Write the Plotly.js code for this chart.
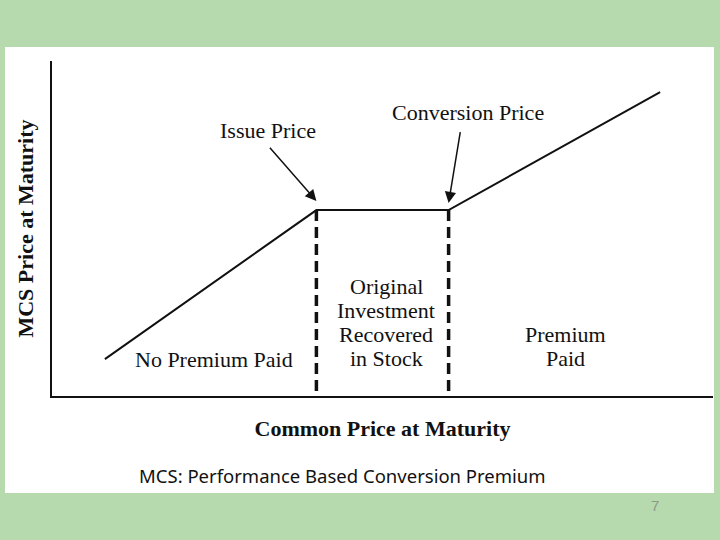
<!DOCTYPE html>
<html>
<head>
<meta charset="utf-8">
<script src="https://cdn.plot.ly/plotly-3.0.1.min.js"></script>
<style>
  html, body { margin: 0; padding: 0; background: #b7d9ae; }
  #chart { width: 720px; height: 540px; }
</style>
</head>
<body>
<div id="chart"></div>
<script>
// ---- data ----
const commonPrice = [8, 40, 60, 92];          // common price at maturity (x)
const mcsPrice    = [11, 55.5, 55.5, 90.7];   // MCS price at maturity (y)
const markerLabels = ["Issue Price", "Conversion Price"];
const regionLines = {
  left:   ["No Premium Paid"],
  middle: ["Original", "Investment", "Recovered", "in Stock"],
  right:  ["Premium", "Paid"]
};
const xTitle = "Common Price at Maturity";
const yTitle = "MCS Price at Maturity";
const subtitle = "MCS: Performance Based Conversion Premium";
const pageNumber = "7";

// ---- geometry (figure pixel -> paper, paper = plot area) ----
const W = 720, H = 540;
const M = { l: 52, r: 7, t: 61, b: 144 };
const plotW = W - M.l - M.r, plotH = H - M.t - M.b;
const px = v => (v - M.l) / plotW;
const py = v => (H - M.b - v) / plotH;

const issuePrice = commonPrice[1];
const conversionPrice = commonPrice[2];
const floorValue = mcsPrice[1];

const serif = "Liberation Serif, Times New Roman, serif";
const ink = "#111111";

const traces = [
  {
    x: commonPrice, y: mcsPrice, type: "scatter", mode: "lines",
    line: { color: ink, width: 2 }, hoverinfo: "skip", showlegend: false
  },
  {
    x: [issuePrice, issuePrice], y: [floorValue, 0], type: "scatter", mode: "lines",
    line: { color: ink, width: 3.5, dash: "11px,6px" }, hoverinfo: "skip", showlegend: false
  },
  {
    x: [conversionPrice, conversionPrice], y: [floorValue, 0], type: "scatter", mode: "lines",
    line: { color: ink, width: 3.5, dash: "11px,6px" }, hoverinfo: "skip", showlegend: false
  }
];

function label(text, xp, yp, opts) {
  return Object.assign({
    text: text, xref: "paper", yref: "paper", x: px(xp), y: py(yp),
    xanchor: "center", yanchor: "middle", showarrow: false,
    font: { family: serif, size: 22, color: ink }
  }, opts || {});
}

const annotations = [
  // arrows
  { xref: "x", yref: "y", x: issuePrice, y: floorValue, yshift: 9,
    ax: -48, ay: -55, showarrow: true, arrowhead: 2, arrowsize: 1.5,
    arrowwidth: 1.5, arrowcolor: ink, standoff: 0, font: { size: 1 } },
  { xref: "x", yref: "y", x: conversionPrice, y: floorValue, yshift: 7,
    ax: 12, ay: -73, showarrow: true, arrowhead: 2, arrowsize: 1.5,
    arrowwidth: 1.5, arrowcolor: ink, standoff: 0, font: { size: 1 } },
  // labels
  label(markerLabels[0], 268, 130),
  label(markerLabels[1], 468, 112),
  label(regionLines.left[0], 214, 359),
  label(regionLines.middle[0], 386, 286),
  label(regionLines.middle[1], 386, 310),
  label(regionLines.middle[2], 386, 334.5),
  label(regionLines.middle[3], 386, 358.5),
  label(regionLines.right[0], 565, 334),
  label(regionLines.right[1], 565, 358.5),
  label(subtitle, 342.5, 475.5, { font: { family: "Noto Sans, DejaVu Sans, sans-serif", size: 18.5, color: ink } }),
  label(pageNumber, 655, 505, { font: { family: "Liberation Sans, sans-serif", size: 15, color: "#8c9b89" } })
];

const layout = {
  width: W, height: H,
  margin: { l: M.l, r: M.r, t: M.t, b: M.b, pad: 0 },
  paper_bgcolor: "#b7d9ae",
  plot_bgcolor: "rgba(0,0,0,0)",
  showlegend: false,
  xaxis: {
    range: [0, 100], showgrid: false, zeroline: false, showticklabels: false, ticks: "",
    showline: true, linecolor: ink, linewidth: 2, fixedrange: true,
    title: { text: xTitle, standoff: 24, font: { family: serif, size: 22, color: ink, weight: "bold" } }
  },
  yaxis: {
    range: [0, 100], showgrid: false, zeroline: false, showticklabels: false, ticks: "",
    showline: true, linecolor: ink, linewidth: 2, fixedrange: true,
    title: { text: yTitle, standoff: 10, font: { family: serif, size: 22, color: ink, weight: "bold" } }
  },
  shapes: [
    { type: "rect", xref: "paper", yref: "paper", layer: "below",
      x0: px(5), x1: px(714), y0: py(493), y1: py(47),
      fillcolor: "#ffffff", line: { width: 0 } }
  ],
  annotations: annotations
};

Plotly.newPlot("chart", traces, layout, { displayModeBar: false, staticPlot: true });
</script>
</body>
</html>
